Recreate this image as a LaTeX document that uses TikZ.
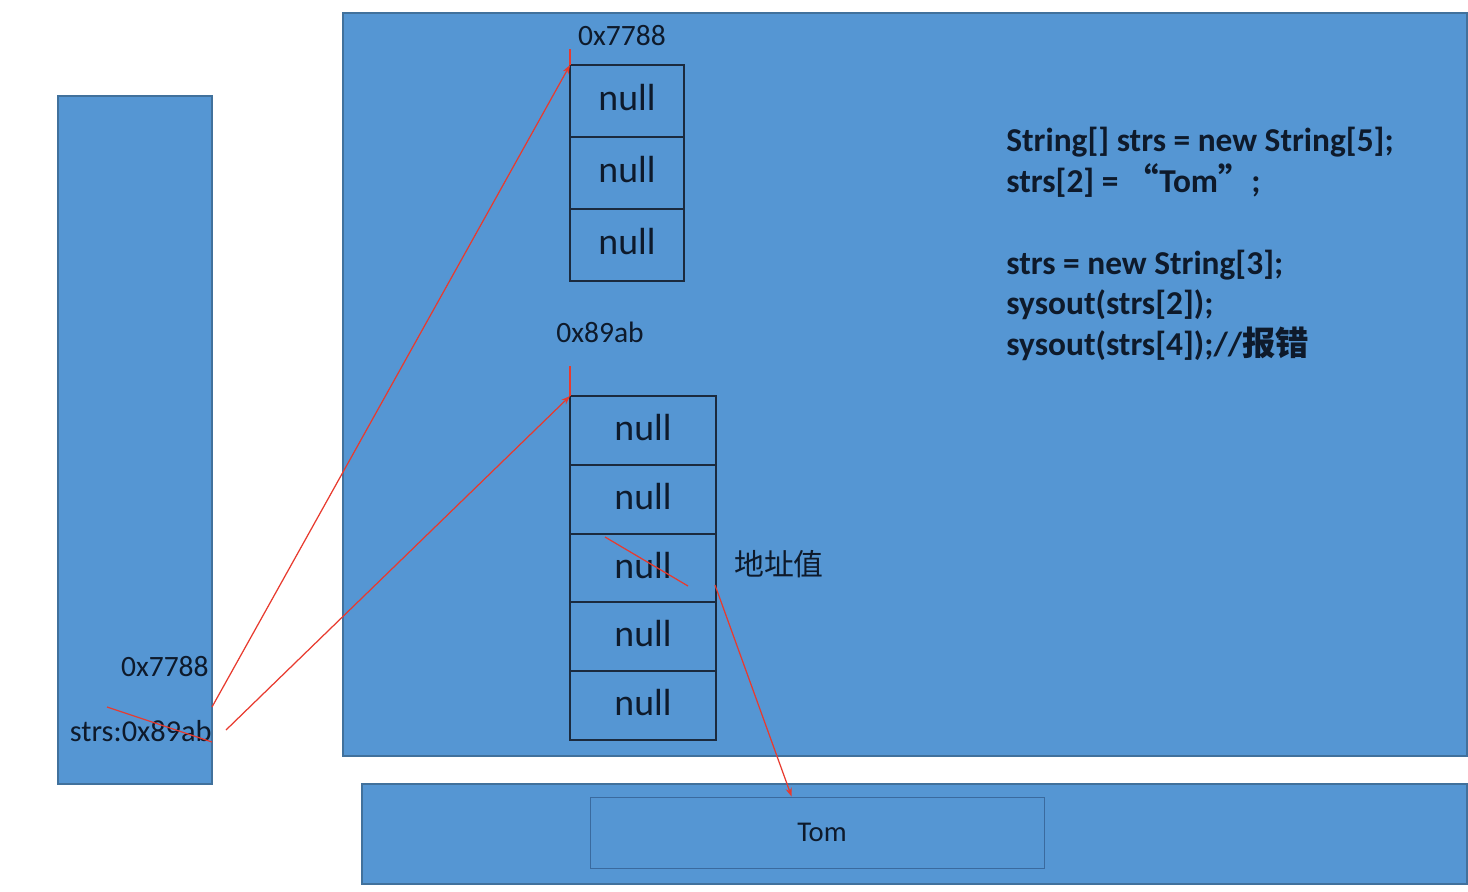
\documentclass[tikz,border=0pt]{standalone}
\usepackage{fontspec}
\setmainfont{Carlito}
\newfontfamily\cjk{Noto Sans CJK SC}
\usetikzlibrary{arrows.meta,positioning,calc}
\definecolor{memblue}{HTML}{5596D3}
\definecolor{memedge}{HTML}{41719C}
\definecolor{celledge}{HTML}{1B2A3E}
\definecolor{tomedge}{HTML}{3A6A9E}
\definecolor{txtdark}{HTML}{0E1A2B}
\definecolor{ptrred}{HTML}{E83A2E}

\begin{document}
\begin{tikzpicture}[x=0.02cm, y=-0.02cm,
  membox/.style={draw=memedge, fill=memblue, line width=0.6pt},
  cellold/.style={draw=celledge, line width=1.1pt, inner sep=0pt, outer sep=0pt, text depth=4.5pt,
    minimum width=2.28cm, minimum height=1.44cm, font=\fontsize{21.5}{24}\selectfont, text=txtdark},
  cellnew/.style={cellold, text depth=3.5pt, minimum width=2.92cm, minimum height=1.376cm},
  addr/.style={font=\fontsize{16.8}{20}\selectfont, text=txtdark, inner sep=0pt},
  codetxt/.style={font=\bfseries\fontsize{19}{23.2}\selectfont, text=txtdark, align=left, inner sep=0pt},
  ptr/.style={draw=ptrred, line width=0.7pt},
  ptrarrow/.style={ptr, -{Stealth[length=5pt, width=3.6pt]}},
]
\useasboundingbox[fill=white] (0,0) rectangle (1468,892);
% memory areas: stack | heap | string pool
\draw[membox] (58,96) rectangle (212,784);
\draw[membox] (343,13) rectangle (1467,756);
\draw[membox] (362,784) rectangle (1467,884);
\node[draw=tomedge, line width=0.5pt, minimum width=9.08cm, minimum height=1.42cm,
  font=\fontsize{16.3}{20}\selectfont, text=txtdark] (tombox) at (817,832.5) {\hspace{5.7pt}Tom};

% old array, length 3
\foreach \i in {1,2,3} {
  \pgfmathsetmacro{\yc}{65 + 36 + (\i-1)*72}
  \node[cellold] (a\i) at (627,\yc) {null};
}
% new array, length 5
\foreach \i in {1,...,5} {
  \pgfmathsetmacro{\yc}{396 + 34.4 + (\i-1)*68.8}
  \node[cellnew] (b\i) at (643,\yc) {null};
}
\node[addr] (addrold) at (622,36) {0x7788};
\node[addr] (addrnew) at (600,332) {0x89ab};
\node[addr, font=\cjk\fontsize{17}{20}\selectfont] (addrnote) at (779,564) {地址值};

% stack entries
\node[addr, anchor=east] (stackold) at (209,667) {0x7788};
\node[addr, anchor=east, font=\fontsize{17.3}{20}\selectfont] (stackvar) at (212,731) {strs:0x89ab};

% code
\node[codetxt, anchor=north west] (code) at (1006,127) {String[] strs = new String[5];\\
  strs[2] = {\cjk “}Tom{\cjk ”};\\[23.2pt]
  strs = new String[3];\\
  sysout(strs[2]);\\
  sysout(strs[4]);//{\cjk\bfseries 报错}};

% references
\coordinate (oldref) at (212,707);
\coordinate (newref) at (226,730);
\coordinate (tomref) at (715,585);
\draw[ptrarrow] (oldref) -- (a1.north west);
\draw[ptrarrow] (newref) -- (b1.north west);
\draw[ptr] (a1.north west) -- ++(0,-16);
\draw[ptr] (b1.north west) -- ++(0,-30);
\draw[ptrarrow] (tomref) -- ($(tombox.north west)+(202,0)$);
% crossed out
\draw[ptr] (107,707) -- (212,742);
\draw[ptr] (605,537) -- (688,586);
\end{tikzpicture}
\end{document}
